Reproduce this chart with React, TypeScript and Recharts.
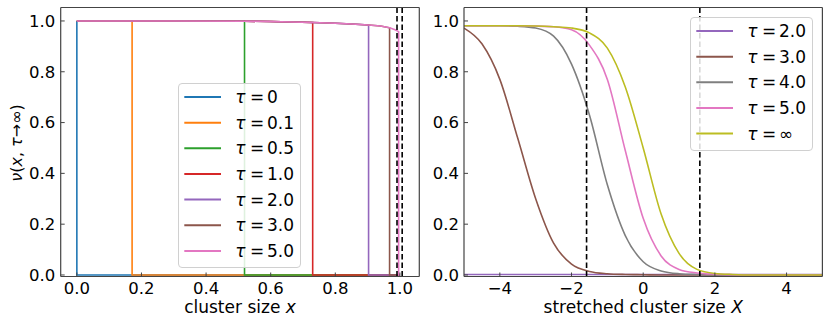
import { Line, LineChart, ReferenceLine, XAxis, YAxis } from "recharts";

// left panel: step profiles nu(x, tau)
const leftTaus = ["0", "0.1", "0.5", "1.0", "2.0", "3.0", "5.0"];
const jumpX = [0, 0.171, 0.519, 0.73, 0.903, 0.968, 0.996];
const leftColors = ["#1f77b4", "#ff7f0e", "#2ca02c", "#d62728", "#9467bd", "#8c564b", "#e377c2"];
const plateauX = [0, 0.171, 0.3, 0.519, 0.6, 0.73, 0.8, 0.85, 0.903, 0.94, 0.968, 0.985, 0.996];
const plateauY = [1.0, 1.0, 1.0, 0.999, 0.998, 0.994, 0.991, 0.988, 0.984, 0.98, 0.973, 0.965, 0.958];
const leftDashes = [0.991, 1.007];
const leftXTicks = [0, 0.2, 0.4, 0.6, 0.8, 1.0];

// right panel: stretched profiles
const rightTaus = ["2.0", "3.0", "4.0", "5.0", "∞"];
const rightColors = ["#9467bd", "#8c564b", "#7f7f7f", "#e377c2", "#bcbd22"];
const stretchedX = [-5, -4.5, -4, -3.5, -3, -2.5, -2, -1.5, -1, -0.5, 0, 0.5, 1, 1.5, 2, 2.5, 3, 4, 5];
const nuTau2 = [0.002, 0.002, 0.002, 0.002, 0.002, 0.002, 0.002, 0.002, 0.002, 0.002, 0.002, 0.002, 0.002, 0.002, 0.002, 0.002, 0.002, 0.002, 0.002];
const nuTau3 = [0.972, 0.91, 0.77, 0.538, 0.3, 0.125, 0.043, 0.014, 0.005, 0.002, 0.001, 0, 0, 0, 0, 0, 0, 0, 0];
const nuTau4 = [0.981, 0.981, 0.981, 0.979, 0.972, 0.94, 0.83, 0.63, 0.355, 0.155, 0.052, 0.016, 0.005, 0.002, 0.001, 0, 0, 0, 0];
const nuTau5 = [0.981, 0.981, 0.981, 0.981, 0.98, 0.977, 0.965, 0.905, 0.77, 0.49, 0.223, 0.075, 0.022, 0.008, 0.003, 0.001, 0, 0, 0];
const nuTauInf = [0.981, 0.981, 0.981, 0.981, 0.98, 0.977, 0.972, 0.953, 0.893, 0.74, 0.5, 0.24, 0.085, 0.022, 0.006, 0.002, 0, 0, 0];
const rightDashes = [-1.58, 1.58];
const rightXTicks = [-4, -2, 0, 2, 4];

const yTicks = [0, 0.2, 0.4, 0.6, 0.8, 1.0];
const yDomain: [number, number] = [-0.006, 1.053];

const FONT = "DejaVu Sans";
const frame = "#444";
const tickStyle = { fontSize: 16.5, fill: "#000", fontFamily: FONT };

const leftSeries = jumpX.map((jx) => {
  const pts = plateauX
    .map((x, i) => ({ x, y: plateauY[i] }))
    .filter((p) => p.x <= jx);
  return [...pts, { x: jx, y: 0 }, { x: 1.0, y: 0 }];
});

const rightSeries = [nuTau2, nuTau3, nuTau4, nuTau5, nuTauInf].map((vals) =>
  stretchedX.map((x, i) => ({ x, y: vals[i] }))
);

function Legend({ left, top, width, height, labels, colors }: any) {
  return (
    <div
      style={{
        position: "absolute",
        left,
        top,
        width,
        height,
        boxSizing: "border-box",
        border: "1px solid #d0d0d0",
        borderRadius: 4,
        background: "rgba(255,255,255,0.85)",
      }}
    >
      <svg width={width} height={height} style={{ position: "absolute", left: -1, top: -1 }}>
        {labels.map((lab: string, i: number) => {
          const cy = 14 + i * 25.65;
          return (
            <g key={lab}>
              <line x1={6.3} x2={43} y1={cy} y2={cy} stroke={colors[i]} strokeWidth={2} />
              <text x={57.3} y={cy} dominantBaseline="central" fontSize={17} fontFamily={FONT}>
                <tspan fontStyle="italic">τ</tspan>
              </text>
              <text x={72} y={cy} dominantBaseline="central" fontSize={17} fontFamily={FONT}>
                =
              </text>
              <text x={89} y={cy} dominantBaseline="central" fontSize={17} fontFamily={FONT}>
                {lab}
              </text>
            </g>
          );
        })}
      </svg>
    </div>
  );
}

export default function App() {
  return (
    <div style={{ position: "absolute", left: 0, top: 0, width: 831, height: 328, background: "#fff" }}>
      <div style={{ position: "absolute", left: 0, top: 0 }}>
        <LineChart width={420} height={328} margin={{ top: 0, right: 0, bottom: 0, left: 0 }}>
          <XAxis
            dataKey="x"
            type="number"
            domain={[-0.05, 1.06]}
            ticks={leftXTicks}
            allowDataOverflow
            height={51.5}
            tickSize={-4}
            tickMargin={10}
            tick={tickStyle}
            tickFormatter={(v: number) => v.toFixed(1)}
            axisLine={{ stroke: frame, strokeWidth: 1.2 }}
            tickLine={{ stroke: frame }}
            label={{
              content: (p: any) => (
                <text
                  x={p.viewBox.x + p.viewBox.width / 2}
                  y={p.viewBox.y + 36}
                  textAnchor="middle"
                  fontSize={17}
                  fontFamily={FONT}
                >
                  cluster size <tspan fontStyle="italic">x</tspan>
                </text>
              ),
            }}
          />
          <XAxis
            xAxisId="top"
            orientation="top"
            type="number"
            domain={[-0.05, 1.06]}
            ticks={leftXTicks}
            allowDataOverflow
            height={7.5}
            tickSize={-4}
            tick={false}
            axisLine={{ stroke: frame, strokeWidth: 1.2 }}
            tickLine={{ stroke: frame }}
          />
          <YAxis
            type="number"
            domain={yDomain}
            ticks={yTicks}
            allowDataOverflow
            width={60.7}
            tickSize={-4}
            tickMargin={9.5}
            tick={tickStyle}
            tickFormatter={(v: number) => v.toFixed(1)}
            axisLine={{ stroke: frame, strokeWidth: 1.2 }}
            tickLine={{ stroke: frame }}
            label={{
              content: () => (
                <text
                  x={16}
                  y={143}
                  transform="rotate(-90 16 143)"
                  textAnchor="middle"
                  dominantBaseline="central"
                  fontSize={16}
                  fontFamily={FONT}
                >
                  <tspan fontStyle="italic">ν</tspan>(<tspan fontStyle="italic">x</tspan>,{" "}
                  <tspan fontStyle="italic">τ</tspan>→∞)
                </text>
              ),
            }}
          />
          <YAxis
            yAxisId="right"
            orientation="right"
            type="number"
            domain={yDomain}
            ticks={yTicks}
            allowDataOverflow
            width={0.7}
            tickSize={-4}
            tick={false}
            axisLine={{ stroke: frame, strokeWidth: 1.2 }}
            tickLine={{ stroke: frame }}
          />
          {leftSeries.map((d, i) => (
            <Line
              key={leftTaus[i]}
              data={d}
              dataKey="y"
              type="linear"
              stroke={leftColors[i]}
              strokeWidth={1.6}
              dot={false}
              isAnimationActive={false}
            />
          ))}
          {leftDashes.map((x) => (
            <ReferenceLine key={x} x={x} stroke="#000" strokeWidth={1.6} strokeDasharray="5.5 3" />
          ))}
        </LineChart>
      </div>
      <div style={{ position: "absolute", left: 420, top: 0 }}>
        <LineChart width={411} height={328} margin={{ top: 0, right: 0, bottom: 0, left: 0 }}>
          <XAxis
            dataKey="x"
            type="number"
            domain={[-5, 5]}
            ticks={rightXTicks}
            allowDataOverflow
            height={51.5}
            tickSize={-4}
            tickMargin={10}
            tick={tickStyle}
            tickFormatter={(v: number) => String(v).replace("-", "−")}
            axisLine={{ stroke: frame, strokeWidth: 1.2 }}
            tickLine={{ stroke: frame }}
            label={{
              content: (p: any) => (
                <text
                  x={p.viewBox.x + p.viewBox.width / 2}
                  y={p.viewBox.y + 36}
                  textAnchor="middle"
                  fontSize={17}
                  fontFamily={FONT}
                >
                  stretched cluster size <tspan fontStyle="italic">X</tspan>
                </text>
              ),
            }}
          />
          <XAxis
            xAxisId="top"
            orientation="top"
            type="number"
            domain={[-5, 5]}
            ticks={rightXTicks}
            allowDataOverflow
            height={7.5}
            tickSize={-4}
            tick={false}
            axisLine={{ stroke: frame, strokeWidth: 1.2 }}
            tickLine={{ stroke: frame }}
          />
          <YAxis
            type="number"
            domain={yDomain}
            ticks={yTicks}
            allowDataOverflow
            width={44}
            tickSize={-4}
            tickMargin={9}
            tick={tickStyle}
            tickFormatter={(v: number) => v.toFixed(1)}
            axisLine={{ stroke: frame, strokeWidth: 1.2 }}
            tickLine={{ stroke: frame }}
          />
          <YAxis
            yAxisId="right"
            orientation="right"
            type="number"
            domain={yDomain}
            ticks={yTicks}
            allowDataOverflow
            width={8.6}
            tickSize={-4}
            tick={false}
            axisLine={{ stroke: frame, strokeWidth: 1.2 }}
            tickLine={{ stroke: frame }}
          />
          {rightSeries.map((d, i) => (
            <Line
              key={rightTaus[i]}
              data={d}
              dataKey="y"
              type="monotone"
              stroke={rightColors[i]}
              strokeWidth={1.6}
              dot={false}
              isAnimationActive={false}
            />
          ))}
          {rightDashes.map((x) => (
            <ReferenceLine key={x} x={x} stroke="#000" strokeWidth={1.6} strokeDasharray="5.5 3" />
          ))}
        </LineChart>
      </div>
      <Legend left={177.7} top={82.7} width={123.3} height={185} labels={leftTaus} colors={leftColors} />
      <Legend left={690} top={16.7} width={123.3} height={134} labels={rightTaus} colors={rightColors} />
    </div>
  );
}
